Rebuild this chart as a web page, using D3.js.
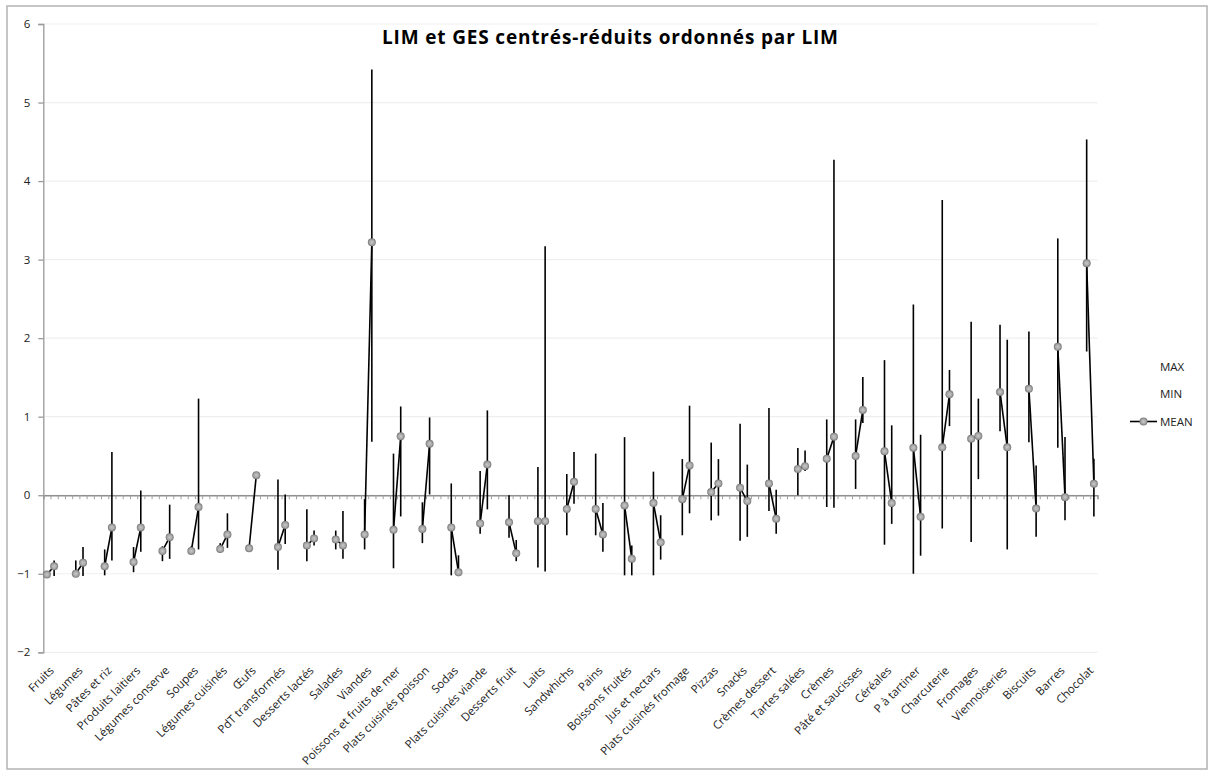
<!DOCTYPE html>
<html>
<head>
<meta charset="utf-8">
<script src="https://cdn.jsdelivr.net/npm/d3@7"></script>
<style>
  html, body { margin: 0; padding: 0; background: #fff; }
  svg { display: block; font-family: "Open Sans", Lato, sans-serif; }
</style>
</head>
<body>
<svg id="chart" width="1211" height="776"></svg>
<script>
// ---- Data ----
const categories = ["Fruits","Légumes","Pâtes et riz","Produits laitiers","Légumes conserve","Soupes","Légumes cuisinés","Œufs","PdT transformés","Desserts lactés","Salades","Viandes","Poissons et fruits de mer","Plats cuisinés poisson","Sodas","Plats cuisinés viande","Desserts fruit","Laits","Sandwhichs","Pains","Boissons fruités","Jus et nectars","Plats cuisinés fromage","Pizzas","Snacks","Crèmes dessert","Tartes salées","Crèmes","Pâté et saucisses","Céréales","P à tartiner","Charcuterie","Fromages","Viennoiseries","Biscuits","Barres","Chocolat"];

const limMean = [-1.01,-1.00,-0.905,-0.85,-0.71,-0.71,-0.685,-0.675,-0.66,-0.64,-0.565,-0.50,-0.44,-0.43,-0.41,-0.36,-0.345,-0.33,-0.175,-0.175,-0.13,-0.10,-0.05,0.04,0.095,0.15,0.335,0.465,0.50,0.56,0.605,0.61,0.72,1.315,1.355,1.89,2.955];
const limMin  = [-1.03,-1.03,-1.02,-0.98,-0.84,-0.74,-0.735,-0.69,-0.95,-0.84,-0.69,-0.69,-0.93,-0.61,-1.02,-0.49,-0.54,-0.92,-0.51,-0.51,-1.02,-1.02,-0.51,-0.32,-0.58,-0.20,0.00,-0.15,0.08,-0.63,-1.00,-0.425,-0.595,0.815,0.675,0.605,1.83];
const limMax  = [-1.00,-0.83,-0.69,-0.66,-0.65,-0.65,-0.61,-0.66,0.20,-0.18,-0.45,-0.05,0.53,-0.09,0.15,0.31,0.00,0.36,0.27,0.53,0.74,0.30,0.46,0.67,0.91,1.11,0.60,0.965,0.965,1.72,2.43,3.76,2.21,2.17,2.085,3.27,4.53];

const gesMean = [-0.905,-0.86,-0.41,-0.41,-0.535,-0.15,-0.50,0.255,-0.38,-0.55,-0.64,3.22,0.75,0.655,-0.98,0.39,-0.74,-0.33,0.17,-0.50,-0.81,-0.60,0.38,0.15,-0.075,-0.30,0.37,0.745,1.085,-0.10,-0.275,1.285,0.755,0.61,-0.17,-0.025,0.145];
const gesMin  = [-1.03,-1.03,-0.83,-0.72,-0.81,-0.69,-0.67,0.23,-0.62,-0.64,-0.81,0.68,-0.27,0.01,-1.03,-0.18,-0.84,-0.97,-0.11,-0.72,-1.02,-0.82,-0.23,-0.26,-0.53,-0.49,0.31,-0.16,0.92,-0.365,-0.77,0.88,0.205,-0.69,-0.53,-0.32,-0.27];
const gesMax  = [-0.83,-0.66,0.55,0.06,-0.12,1.23,-0.23,0.28,0.01,-0.45,-0.20,5.42,1.13,0.99,-0.765,1.08,-0.57,3.17,0.55,-0.10,-0.64,-0.255,1.14,0.46,0.39,0.07,0.57,4.27,1.505,0.89,0.77,1.595,1.23,1.98,0.38,0.74,0.465];

const yTicks = [-2,-1,0,1,2,3,4,5,6];
const legendItems = ["MAX","MIN","MEAN"];
const titleText = "LIM et GES centrés-réduits ordonnés par LIM";

// ---- Layout ----
const svg = d3.select("#chart");
const plot = { left: 43.3, right: 1097.5, top: 24, bottom: 652.3 };

// slot keys: LIM, GES, then two blank slots between categories
const slots = [];
categories.forEach((c, i) => {
  slots.push(c + "|LIM", c + "|GES");
  if (i < categories.length - 1) slots.push(c + "|b1", c + "|b2");
});

const x = d3.scaleBand().domain(slots).range([plot.left, plot.right]).padding(0);
const xc = k => x(k) + x.bandwidth() / 2;
const xTickScale = d3.scaleLinear().domain([0, slots.length]).range([plot.left, plot.right]);
const y = d3.scaleLinear().domain([-2, 6]).range([plot.bottom, plot.top]);

// border
svg.append("rect").attr("x", 7).attr("y", 6).attr("width", 1200).attr("height", 763)
  .attr("fill", "#fff").attr("stroke", "#b3b3b3").attr("stroke-width", 1.5);

// gridlines
svg.append("g").selectAll("line").data(yTicks).join("line")
  .attr("x1", plot.left).attr("x2", plot.right)
  .attr("y1", d => y(d)).attr("y2", d => y(d))
  .attr("stroke", "#efefef").attr("stroke-width", 1.2);

// y axis
const yAxis = svg.append("g").attr("transform", `translate(${plot.left},0)`)
  .call(d3.axisLeft(y).tickValues(yTicks).tickSize(5).tickPadding(8).tickFormat(d3.format("d")));
yAxis.select(".domain").attr("stroke", "#9a9a9a").attr("stroke-width", 1.3);
yAxis.selectAll(".tick line").attr("stroke", "#9a9a9a").attr("stroke-width", 1.3);
yAxis.selectAll(".tick text").attr("font-size", 11.5).attr("fill", "#222")
  .attr("font-family", "'Open Sans', sans-serif");

// x axis at zero with minor ticks at slot boundaries
const xAxis = svg.append("g").attr("transform", `translate(0,${y(0)})`)
  .call(d3.axisBottom(xTickScale).tickValues(d3.range(slots.length + 1)).tickSize(4).tickFormat(""));
xAxis.select(".domain").attr("stroke", "#8f8f8f").attr("stroke-width", 1.4);
xAxis.selectAll(".tick line").attr("stroke", "#a0a0a0").attr("stroke-width", 1);

// category labels
svg.append("g").selectAll("text").data(categories).join("text")
  .attr("transform", c => {
    const mx = (xc(c + "|LIM") + xc(c + "|GES")) / 2;
    return `translate(${mx + 4},${plot.bottom + 19}) rotate(-45)`;
  })
  .attr("text-anchor", "end")
  .attr("font-size", 11.5).attr("fill", "#222")
  .text(c => c);

// high-low lines
const hl = [];
categories.forEach((c, i) => {
  hl.push({ k: c + "|LIM", lo: limMin[i], hi: limMax[i] });
  hl.push({ k: c + "|GES", lo: gesMin[i], hi: gesMax[i] });
});
svg.append("g").selectAll("line").data(hl).join("line")
  .attr("x1", d => xc(d.k)).attr("x2", d => xc(d.k))
  .attr("y1", d => y(d.lo)).attr("y2", d => y(d.hi))
  .attr("stroke", "#000").attr("stroke-width", 1.6);

// mean lines (LIM -> GES per category)
const line = d3.line().x(d => d[0]).y(d => d[1]);
svg.append("g").selectAll("path").data(categories).join("path")
  .attr("d", (c, i) => line([[xc(c + "|LIM"), y(limMean[i])], [xc(c + "|GES"), y(gesMean[i])]]))
  .attr("stroke", "#000").attr("stroke-width", 1.6).attr("fill", "none");

// marker gradient
const defs = svg.append("defs");
const grad = defs.append("radialGradient").attr("id", "mk");
grad.append("stop").attr("offset", "0%").attr("stop-color", "#c8c8c8");
grad.append("stop").attr("offset", "60%").attr("stop-color", "#a8a8a8");
grad.append("stop").attr("offset", "100%").attr("stop-color", "#777");
defs.append("filter").attr("id", "blur").append("feGaussianBlur").attr("stdDeviation", 0.6);

const pts = [];
categories.forEach((c, i) => {
  pts.push({ k: c + "|LIM", v: limMean[i] });
  pts.push({ k: c + "|GES", v: gesMean[i] });
});
svg.append("g").selectAll("circle").data(pts).join("circle")
  .attr("cx", d => xc(d.k)).attr("cy", d => y(d.v)).attr("r", 4)
  .attr("fill", "url(#mk)").attr("filter", "url(#blur)");

// title
svg.append("text").attr("x", 610).attr("y", 43.5).attr("text-anchor", "middle")
  .attr("font-size", 19).attr("font-weight", "bold").attr("fill", "#000")
  .attr("textLength", 456).attr("lengthAdjust", "spacing")
  .text(titleText);

// legend
const lg = svg.append("g");
const legY = [367, 394, 421.5];
legendItems.forEach((t, i) => {
  lg.append("text").attr("x", 1160).attr("y", legY[i]).attr("dy", "0.35em")
    .attr("font-size", 11.5).attr("fill", "#222").text(t);
});
lg.append("line").attr("x1", 1130).attr("x2", 1157).attr("y1", legY[2]).attr("y2", legY[2])
  .attr("stroke", "#000").attr("stroke-width", 1.6);
lg.append("circle").attr("cx", 1143.5).attr("cy", legY[2]).attr("r", 4)
  .attr("fill", "url(#mk)").attr("filter", "url(#blur)");
</script>
</body>
</html>
